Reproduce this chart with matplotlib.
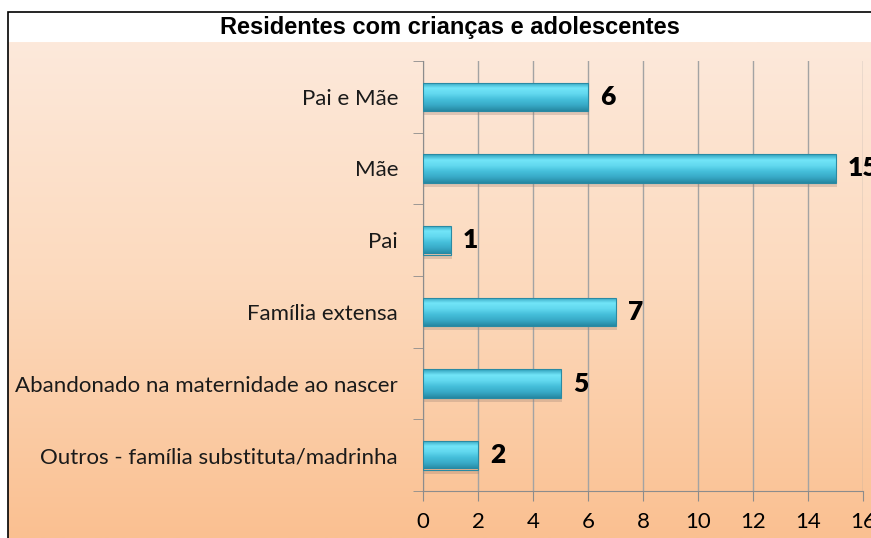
import numpy as np
import matplotlib.pyplot as plt
from matplotlib.colors import LinearSegmentedColormap
from matplotlib.patches import Rectangle

categories = ["Pai e Mãe", "Mãe", "Pai", "Família extensa",
              "Abandonado na maternidade ao nascer",
              "Outros - família substituta/madrinha"]
values = [6, 15, 1, 7, 5, 2]
xticks = [0, 2, 4, 6, 8, 10, 12, 14, 16]
title = "Residentes com crianças e adolescentes"

W, H = 871, 538
fig = plt.figure(figsize=(W / 100, H / 100), dpi=100)
fig.patch.set_facecolor("white")

# peach gradient behind the chart, below the title band
bg = fig.add_axes([8 / W, 0, 1 - 8 / W, (H - 42) / H], zorder=0)
bg_cmap = LinearSegmentedColormap.from_list("bg", ["#fde9db", "#fcd9bc", "#fac091"])
bg.imshow(np.linspace(0, 1, 256).reshape(-1, 1), cmap=bg_cmap, aspect="auto",
          extent=(0, 1, 0, 1), origin="upper")
bg.set_axis_off()

# chart frame (top and left edge visible)
fig.patches.append(Rectangle((8 / W, -0.1), 1.2, (H - 12) / H + 0.1,
                             transform=fig.transFigure, fill=False,
                             edgecolor="black", linewidth=1.2, zorder=5))

fig.text(450 / W, 1 - 28 / H, title, ha="center", va="center",
         fontsize=17, fontweight="bold", family="Liberation Sans")

ax = fig.add_axes([423 / W, 47 / H, 440 / W, 430 / H], zorder=2)
ax.patch.set_alpha(0)
ypos = np.arange(len(categories))
h = 0.4
bars = ax.barh(ypos, values, height=h, color="#3bb4d2", zorder=3)

bar_cmap = LinearSegmentedColormap.from_list(
    "bar", ["#2f9fbb", "#72e5f8", "#62d8ef", "#45bfda", "#38aac7", "#2688a2"])
grad = np.linspace(0, 1, 64).reshape(-1, 1)
for b, v in zip(bars, values):
    x0, y0, bw, bh = b.get_x(), b.get_y(), b.get_width(), b.get_height()
    # soft shadow under bar
    ax.add_patch(Rectangle((x0 + 0.05, y0 + 0.06), bw, bh, color="#9a8070",
                           alpha=0.3, zorder=2, linewidth=0))
    im = ax.imshow(grad, cmap=bar_cmap, aspect="auto", origin="upper",
                   extent=(x0, x0 + bw, y0 + bh, y0), zorder=4)
    im.set_clip_path(b)
    b.set_edgecolor("#2a8aa3")
    b.set_linewidth(0.8)
    b.set_zorder(5)
    b.set_facecolor("none")
    ax.text(v + 0.45, b.get_y() + bh / 2, str(v), ha="left", va="center",
            fontsize=19, fontweight="heavy", family="Lato", clip_on=False)

ax.set_xlim(0, 16)
ax.set_ylim(len(categories) - 0.5, -0.5)
ax.set_xticks(xticks)
ax.set_xticklabels([str(t) for t in xticks], fontsize=16, family="Lato")
ax.set_yticks(ypos)
ax.set_yticklabels(categories, fontsize=16, family="Lato", color="#1a1a1a")
ax.tick_params(axis="y", length=0, pad=18)
ax.set_yticks(np.arange(-0.5, len(categories)), minor=True)
ax.tick_params(axis="y", which="minor", length=7, color="#8c8c8c")
ax.tick_params(axis="x", length=7, color="#8c8c8c", pad=8)
ax.grid(axis="x", color="#a3a3a3", linewidth=1, zorder=1)
for s in ["top", "right"]:
    ax.spines[s].set_visible(False)
for s in ["left", "bottom"]:
    ax.spines[s].set_color("#8c8c8c")

fig.savefig("out.png", dpi=100)
